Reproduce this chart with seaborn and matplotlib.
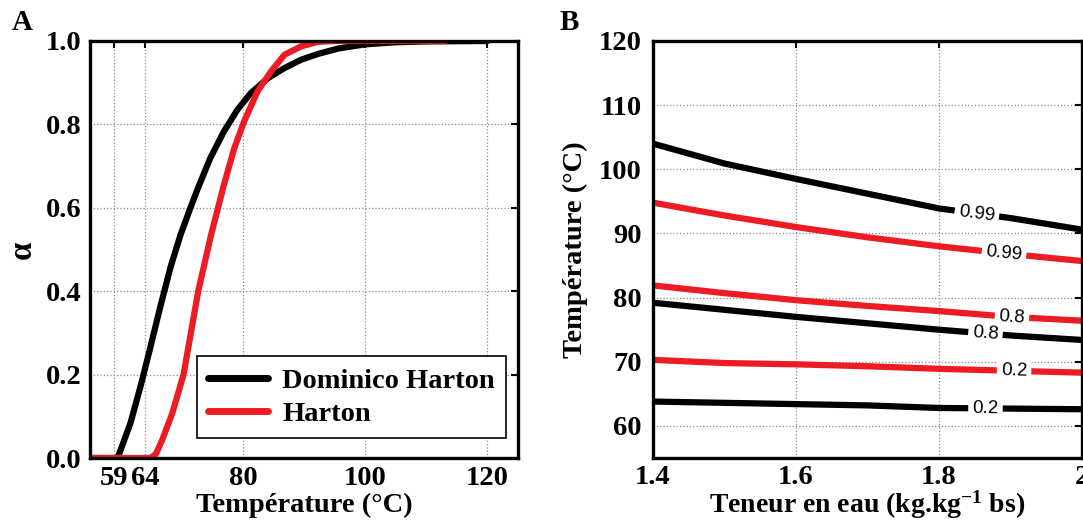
import numpy as np
import pandas as pd
import matplotlib
matplotlib.use('Agg')
import matplotlib.pyplot as plt
import seaborn as sns
from matplotlib.ticker import FormatStrFormatter

# ---------------- Panel A data ----------------
temp_dh = [55, 59.5, 60.0, 61.6, 63.25, 64.9, 66.5, 68.2, 69.8, 71.5, 72.6, 74.7,
           76.9, 79.1, 81.3, 84.1, 86.8, 89.5, 92.3, 95.6, 100, 105, 110, 120]
alpha_dh = [0, 0, 0.019, 0.083, 0.171, 0.267, 0.363, 0.459, 0.535, 0.603, 0.645, 0.72,
            0.783, 0.835, 0.875, 0.911, 0.935, 0.955, 0.969, 0.982, 0.992, 0.997,
            0.999, 1.0]
temp_h = [55, 64.9, 65.8, 66.8, 68.45, 70.3, 71.5, 72.7, 74.8, 76.9, 78.6, 80.2,
          82.4, 84.6, 86.8, 89.5, 92.3, 95, 113.1]
alpha_h = [0, 0, 0.01, 0.043, 0.107, 0.2, 0.3, 0.4, 0.535, 0.655, 0.743, 0.807,
           0.879, 0.927, 0.967, 0.987, 0.998, 1.0, 1.0]
xticks_a = [59, 64, 80, 100, 120]
yticks_a = [0, 0.2, 0.4, 0.6, 0.8, 1.0]
names = ["Dominico Harton", "Harton"]

# ---------------- Panel B data ----------------
moisture = [1.4, 1.5, 1.6, 1.7, 1.8, 1.9, 2.0]
T_dh_099 = [104.0, 100.9, 98.5, 96.2, 93.9, 92.4, 90.6]
T_h_099 = [94.8, 92.8, 91.0, 89.4, 88.0, 86.8, 85.7]
T_h_08 = [81.9, 80.7, 79.6, 78.7, 77.9, 77.0, 76.4]
T_dh_08 = [79.2, 78.1, 77.0, 76.0, 75.0, 74.1, 73.4]
T_h_02 = [70.3, 69.8, 69.6, 69.3, 68.9, 68.6, 68.3]
T_dh_02 = [63.8, 63.6, 63.4, 63.2, 62.8, 62.7, 62.6]
contour_labels = ["0.99", "0.99", "0.8", "0.8", "0.2", "0.2"]
label_x = [1.853, 1.891, 1.902, 1.865, 1.905, 1.865]
xticks_b = [1.4, 1.6, 1.8, 2.0]
xticklabels_b = ["1.4", "1.6", "1.8", "2"]
yticks_b = [60, 70, 80, 90, 100, 110, 120]

BLACK = "#000000"
RED = "#ED1C24"

sns.set_theme(style="white")
plt.rcParams['font.family'] = ['Liberation Serif', 'DejaVu Serif']
plt.rcParams['font.weight'] = 'bold'
plt.rcParams['axes.labelweight'] = 'bold'
plt.rcParams['text.color'] = 'black'
plt.rcParams['axes.labelcolor'] = 'black'
plt.rcParams['xtick.color'] = 'black'
plt.rcParams['ytick.color'] = 'black'
plt.rcParams['mathtext.fontset'] = 'custom'
plt.rcParams['mathtext.rm'] = 'Liberation Serif:bold'
plt.rcParams['mathtext.it'] = 'Liberation Serif:bold:italic'
plt.rcParams['mathtext.bf'] = 'Liberation Serif:bold'

fig = plt.figure(figsize=(10.83, 5.21), dpi=100)
W, H = 1083, 521
axA = fig.add_axes([90 / W, (H - 458) / H, 428 / W, 417 / H])
axB = fig.add_axes([653 / W, (H - 458) / H, 429 / W, 417 / H])

TICK_FS = 20.5
LABEL_FS = 20.5
LW = 4.5


def style_axes(ax, pad):
    for s in ax.spines.values():
        s.set_visible(True)
        s.set_color('black')
        s.set_linewidth(2.4)
    ax.grid(True, color='0.55', linestyle=':', linewidth=0.9)
    ax.set_axisbelow(True)
    ax.tick_params(direction='in', length=5, width=1.5, top=True, right=True,
                   labelsize=TICK_FS, colors='black', pad=pad)
    for lab in ax.get_xticklabels() + ax.get_yticklabels():
        lab.set_fontweight('bold')
        lab.set_color('black')


# ---------------- Panel A ----------------
sns.lineplot(x=temp_dh, y=alpha_dh, ax=axA, color=BLACK, linewidth=LW,
             sort=False, label=names[0])
sns.lineplot(x=temp_h, y=alpha_h, ax=axA, color=RED, linewidth=LW,
             sort=False, label=names[1])
axA.set_xlim(55, 125)
axA.set_ylim(0, 1)
axA.set_xticks(xticks_a)
axA.set_yticks(yticks_a)
axA.yaxis.set_major_formatter(FormatStrFormatter('%.1f'))
style_axes(axA, 6)
axA.set_xlabel("Température (°C)", fontsize=LABEL_FS, fontweight='bold', labelpad=1)
axA.set_ylabel("α", fontsize=LABEL_FS + 3, fontweight='bold', labelpad=6)
leg = axA.legend(loc='lower right', bbox_to_anchor=(0.972, 0.048), fontsize=LABEL_FS,
                 frameon=True, fancybox=False, edgecolor='black', framealpha=1,
                 handlelength=2.1, borderpad=0.4, labelspacing=0.25,
                 handletextpad=0.5, borderaxespad=0)
leg.get_frame().set_linewidth(1.2)
for t in leg.get_texts():
    t.set_fontweight('bold')
    t.set_color('black')
for l in leg.get_lines():
    l.set_linewidth(LW + 0.5)

# ---------------- Panel B ----------------
axB.set_xlim(1.4, 2.0)
axB.set_ylim(55, 120)
series_b = [(T_dh_099, BLACK), (T_h_099, RED), (T_h_08, RED),
            (T_dh_08, BLACK), (T_h_02, RED), (T_dh_02, BLACK)]
for (vals, col) in series_b:
    sns.lineplot(x=moisture, y=vals, ax=axB, color=col, linewidth=LW,
                 sort=False, legend=False)
axB.set_xticks(xticks_b)
axB.set_xticklabels(xticklabels_b)
axB.set_yticks(yticks_b)
style_axes(axB, 8)
axB.tick_params(axis='x', pad=5)
axB.set_xlabel(r"Teneur en eau (kg.kg$^{-1}$ bs)", fontsize=20,
               fontweight='bold', labelpad=-1)
axB.set_ylabel("Température (°C)", fontsize=LABEL_FS, fontweight='bold', labelpad=8)

fig.canvas.draw()
for (vals, col), txt, lx in zip(series_b, contour_labels, label_x):
    ly = np.interp(lx, moisture, vals)
    p1 = axB.transData.transform((lx - 0.02, np.interp(lx - 0.02, moisture, vals)))
    p2 = axB.transData.transform((lx + 0.02, np.interp(lx + 0.02, moisture, vals)))
    ang = np.degrees(np.arctan2(p2[1] - p1[1], p2[0] - p1[0]))
    axB.text(lx, ly, txt, fontsize=13.5, family=['Liberation Sans', 'DejaVu Sans'],
             fontweight='normal', color='black', ha='center', va='center',
             rotation=ang, rotation_mode='anchor', zorder=5,
             bbox=dict(facecolor='white', edgecolor='none', pad=3))

fig.text(12 / W, 1 - 23 / H, "A", fontsize=21, fontweight='bold', va='center')
fig.text(560 / W, 1 - 22 / H, "B", fontsize=21, fontweight='bold', va='center')

fig.savefig("out.png", dpi=100)
